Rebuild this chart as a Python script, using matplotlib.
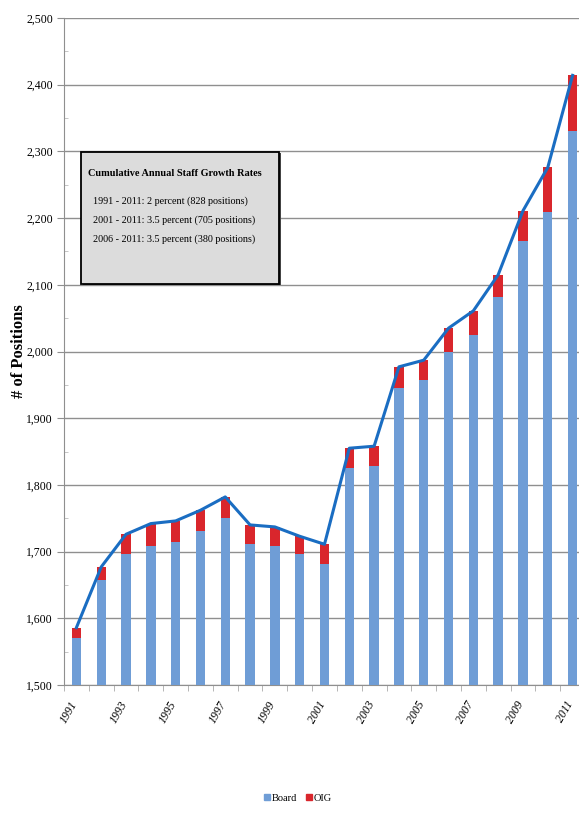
import matplotlib
matplotlib.use("Agg")
import matplotlib.pyplot as plt
from matplotlib.patches import Patch
from matplotlib.ticker import MultipleLocator, FuncFormatter
from matplotlib.transforms import ScaledTranslation
import numpy as np

plt.rcParams['font.family'] = ['Liberation Serif', 'DejaVu Serif']

years = list(range(1991, 2012))
board = [1570, 1657, 1696, 1709, 1714, 1731, 1750, 1711, 1709, 1696, 1682,
         1826, 1828, 1946, 1957, 2000, 2024, 2081, 2165, 2209, 2330]
oig = [16, 20, 30, 33, 32, 31, 32, 29, 28, 27, 29,
       29, 30, 31, 30, 35, 37, 34, 46, 67, 84]
box_title = "Cumulative Annual Staff Growth Rates"
box_lines = ["1991 - 2011: 2 percent (828 positions)",
             "2001 - 2011: 3.5 percent (705 positions)",
             "2006 - 2011: 3.5 percent (380 positions)"]

board_color = "#6F9DD6"
oig_color = "#D9262C"
line_color = "#1A6DC2"
grid_color = "#8F8F8F"

W, H = 579, 813
fig = plt.figure(figsize=(W / 100, H / 100), dpi=100)
ax = fig.add_axes([64 / W, 1 - 685 / H, (585 - 64) / W, (685 - 18) / H])

x = np.arange(len(years))
total = np.array(board) + np.array(oig)
ax.bar(x, board, width=0.38, color=board_color, zorder=3)
ax.bar(x, oig, width=0.38, bottom=board, color=oig_color, zorder=3)
ax.plot(x, total, color=line_color, lw=2.2, zorder=4, solid_joinstyle='round')

ax.set_ylim(1500, 2500)
ax.set_xlim(-0.5, len(years) - 0.5)

ax.yaxis.set_major_locator(MultipleLocator(100))
ax.yaxis.set_minor_locator(MultipleLocator(50))
ax.yaxis.set_major_formatter(FuncFormatter(lambda v, p: f"{int(v):,}"))
ax.tick_params(axis='y', which='major', length=5, width=0.8, color=grid_color,
               labelsize=8.5, pad=3)
ax.tick_params(axis='y', which='minor', direction='in', length=3, width=0.6,
               color="#BBBBBB")
ax.grid(axis='y', which='major', color=grid_color, lw=1.0, zorder=0)

# year labels under every other bar, tick marks on category boundaries
ax.set_xticks(x[::2])
ax.set_xticklabels([str(y) for y in years[::2]], rotation=60, ha='right',
                   va='top', rotation_mode='anchor', style='italic', fontsize=8.5)
ax.tick_params(axis='x', which='major', length=0, pad=10)
shift = ScaledTranslation(-5 / 72, 0, fig.dpi_scale_trans)
for lab in ax.get_xticklabels():
    lab.set_transform(lab.get_transform() + shift)
ax.set_xticks(np.arange(-0.5, len(years), 1.0), minor=True)
ax.tick_params(axis='x', which='minor', length=4, width=0.6, color="#AAAAAA")

for s in ['top', 'right']:
    ax.spines[s].set_visible(False)
ax.spines['left'].set_color(grid_color)
ax.spines['bottom'].set_color(grid_color)

ax.set_ylabel("# of Positions", fontsize=12, fontweight='bold')
ax.yaxis.set_label_coords(-(64 - 27) / (585 - 64), 0.5)

# text box with growth rates
bx0, by0 = 81 / W, 1 - 284 / H
bw, bh = (279 - 81) / W, (284 - 152) / H
fig.patches.append(plt.Rectangle((bx0 + 1.5 / W, by0 - 1.5 / H), bw, bh,
                                 transform=fig.transFigure, facecolor="#444444",
                                 edgecolor='none', zorder=5))
fig.patches.append(plt.Rectangle((bx0, by0), bw, bh, transform=fig.transFigure,
                                 facecolor="#DCDCDC", edgecolor="black", lw=1.3,
                                 zorder=6))
fig.text(88 / W, 1 - 173 / H, box_title, fontsize=7.4, fontweight='bold',
         va='center', ha='left', zorder=7)
for i, t in enumerate(box_lines):
    fig.text(93 / W, 1 - (201 + 19 * i) / H, t, fontsize=7.3, va='center',
             ha='left', zorder=7)

handles = [Patch(color=board_color, label='Board'),
           Patch(color=oig_color, label='OIG')]
fig.legend(handles=handles, loc='center', bbox_to_anchor=(298 / W, 1 - 798 / H),
           ncol=2, frameon=False, fontsize=7.5, handlelength=0.6,
           handleheight=0.6, handletextpad=0.2, columnspacing=0.8)

fig.savefig("out.png", dpi=100)
